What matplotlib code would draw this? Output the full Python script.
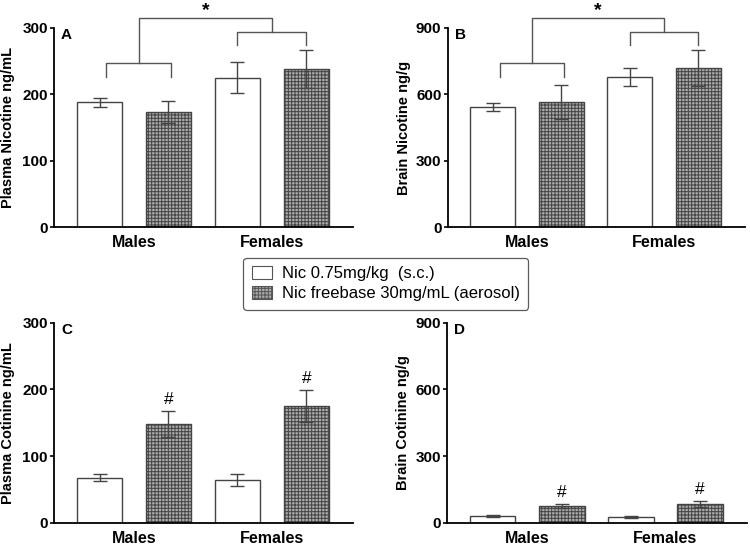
import matplotlib
matplotlib.use("Agg")
import matplotlib.pyplot as plt
from matplotlib.patches import Patch
import numpy as np

plt.rcParams['font.family'] = ['Liberation Sans', 'DejaVu Sans']
plt.rcParams['hatch.linewidth'] = 0.7
plt.rcParams['hatch.color'] = '#333333'

groups = ["Males", "Females"]
legend_labels = ["Nic 0.75mg/kg  (s.c.)", "Nic freebase 30mg/mL (aerosol)"]

# means and SEMs
plasma_nic_sc = [188, 225]
plasma_nic_sc_err = [7, 23]
plasma_nic_aer = [173, 238]
plasma_nic_aer_err = [17, 29]

brain_nic_sc = [543, 679]
brain_nic_sc_err = [18, 40]
brain_nic_aer = [566, 719]
brain_nic_aer_err = [78, 80]

plasma_cot_sc = [68, 65]
plasma_cot_sc_err = [5, 9]
plasma_cot_aer = [148, 175]
plasma_cot_aer_err = [19, 24]

brain_cot_sc = [30, 26]
brain_cot_sc_err = [4, 5]
brain_cot_aer = [75, 85]
brain_cot_aer_err = [10, 13]

fig = plt.figure(figsize=(7.5, 5.47), dpi=100)
axA = fig.add_axes([0.072, 0.585, 0.399, 0.364])
axB = fig.add_axes([0.597, 0.585, 0.396, 0.364])
axC = fig.add_axes([0.072, 0.044, 0.399, 0.366])
axD = fig.add_axes([0.596, 0.044, 0.400, 0.366])

x = np.arange(len(groups))
off = 0.25
w = 0.33
edge = '#444444'
hatch_face = '#aaaaaa'


def panel(ax, sc, sc_err, aer, aer_err, ymax, ylabel, letter, labx):
    ax.bar(x - off, sc, w, color='white', edgecolor=edge, linewidth=1.0, zorder=2)
    ax.bar(x + off, aer, w, color=hatch_face, edgecolor=edge, hatch='+++++',
           linewidth=1.0, zorder=2)
    ax.errorbar(x - off, sc, yerr=sc_err, fmt='none', ecolor='#444444',
                elinewidth=1.0, capsize=5, capthick=1.0, zorder=3)
    ax.errorbar(x + off, aer, yerr=aer_err, fmt='none', ecolor='#444444',
                elinewidth=1.0, capsize=5, capthick=1.0, zorder=3)
    ax.set_xlim(-0.58, 1.59)
    ax.set_ylim(0, ymax)
    ax.set_yticks(np.linspace(0, ymax, 4))
    ax.set_xticks(x)
    ax.set_xticklabels(groups, fontsize=11.5, fontweight='bold')
    ax.tick_params(axis='x', length=0, pad=6)
    ax.tick_params(axis='y', labelsize=11, width=1.2, length=3, pad=1.5)
    for lab in ax.get_yticklabels():
        lab.set_fontweight('bold')
    ax.set_ylabel(ylabel, fontsize=10.5, fontweight='bold')
    ax.yaxis.set_label_coords(labx, 0.5)
    ax.spines['top'].set_visible(False)
    ax.spines['right'].set_visible(False)
    ax.spines['left'].set_linewidth(1.3)
    ax.spines['bottom'].set_linewidth(1.3)
    ax.text(0.023, 1.0, letter, transform=ax.transAxes, fontsize=11,
            fontweight='bold', va='top', ha='left')


panel(axA, plasma_nic_sc, plasma_nic_sc_err, plasma_nic_aer, plasma_nic_aer_err,
      300, "Plasma Nicotine ng/mL", "A", -0.13)
panel(axB, brain_nic_sc, brain_nic_sc_err, brain_nic_aer, brain_nic_aer_err,
      900, "Brain Nicotine ng/g", "B", -0.125)
panel(axC, plasma_cot_sc, plasma_cot_sc_err, plasma_cot_aer, plasma_cot_aer_err,
      300, "Plasma Cotinine ng/mL", "C", -0.13)
panel(axD, brain_cot_sc, brain_cot_sc_err, brain_cot_aer, brain_cot_aer_err,
      900, "Brain Cotinine ng/g", "D", -0.125)


def brackets(ax, ymax, m_y, m_leg, f_y, f_leg, top_y):
    # heights given on a 0-300 scale, rescaled to the panel's axis
    s = ymax / 300.0
    kw = dict(color='#555555', lw=1.0, clip_on=False)
    ml, mr = -off + 0.05, off + 0.02
    fl, fr = 1 - off, 1 + off
    ax.plot([ml, ml, mr, mr], [m_leg * s, m_y * s, m_y * s, m_leg * s], **kw)
    ax.plot([fl, fl, fr, fr], [f_leg * s, f_y * s, f_y * s, f_leg * s], **kw)
    mm = (ml + mr) / 2
    fm = (fl + fr) / 2
    ax.plot([mm, mm, fm, fm], [m_y * s, top_y * s, top_y * s, f_y * s], **kw)
    ax.text((mm + fm) / 2, (top_y - 1) * s, "*", ha='center', va='bottom',
            fontsize=14, fontweight='bold', clip_on=False)


brackets(axA, 300, 247, 226, 294, 274, 315)
brackets(axB, 900, 247, 226, 294, 274, 315)

for ax, aer, err, ymax in [(axC, plasma_cot_aer, plasma_cot_aer_err, 300),
                           (axD, brain_cot_aer, brain_cot_aer_err, 900)]:
    for xi, v, e in zip(x + off, aer, err):
        ax.text(xi, v + e + ymax * 0.02, "#", ha='center', va='bottom',
                fontsize=12.5)

handles = [Patch(facecolor='white', edgecolor='#555555', linewidth=0.8),
           Patch(facecolor=hatch_face, edgecolor='#555555', hatch='+++++', linewidth=0.8)]
leg = fig.legend(handles, legend_labels, loc='center', bbox_to_anchor=(0.514, 0.481),
                 fontsize=12, frameon=True, fancybox=True, edgecolor='#333333',
                 handlelength=1.2, handleheight=0.75, handletextpad=0.6,
                 labelspacing=0.3, borderpad=0.5)
leg.get_frame().set_linewidth(0.9)

fig.savefig("out.png", dpi=100)
